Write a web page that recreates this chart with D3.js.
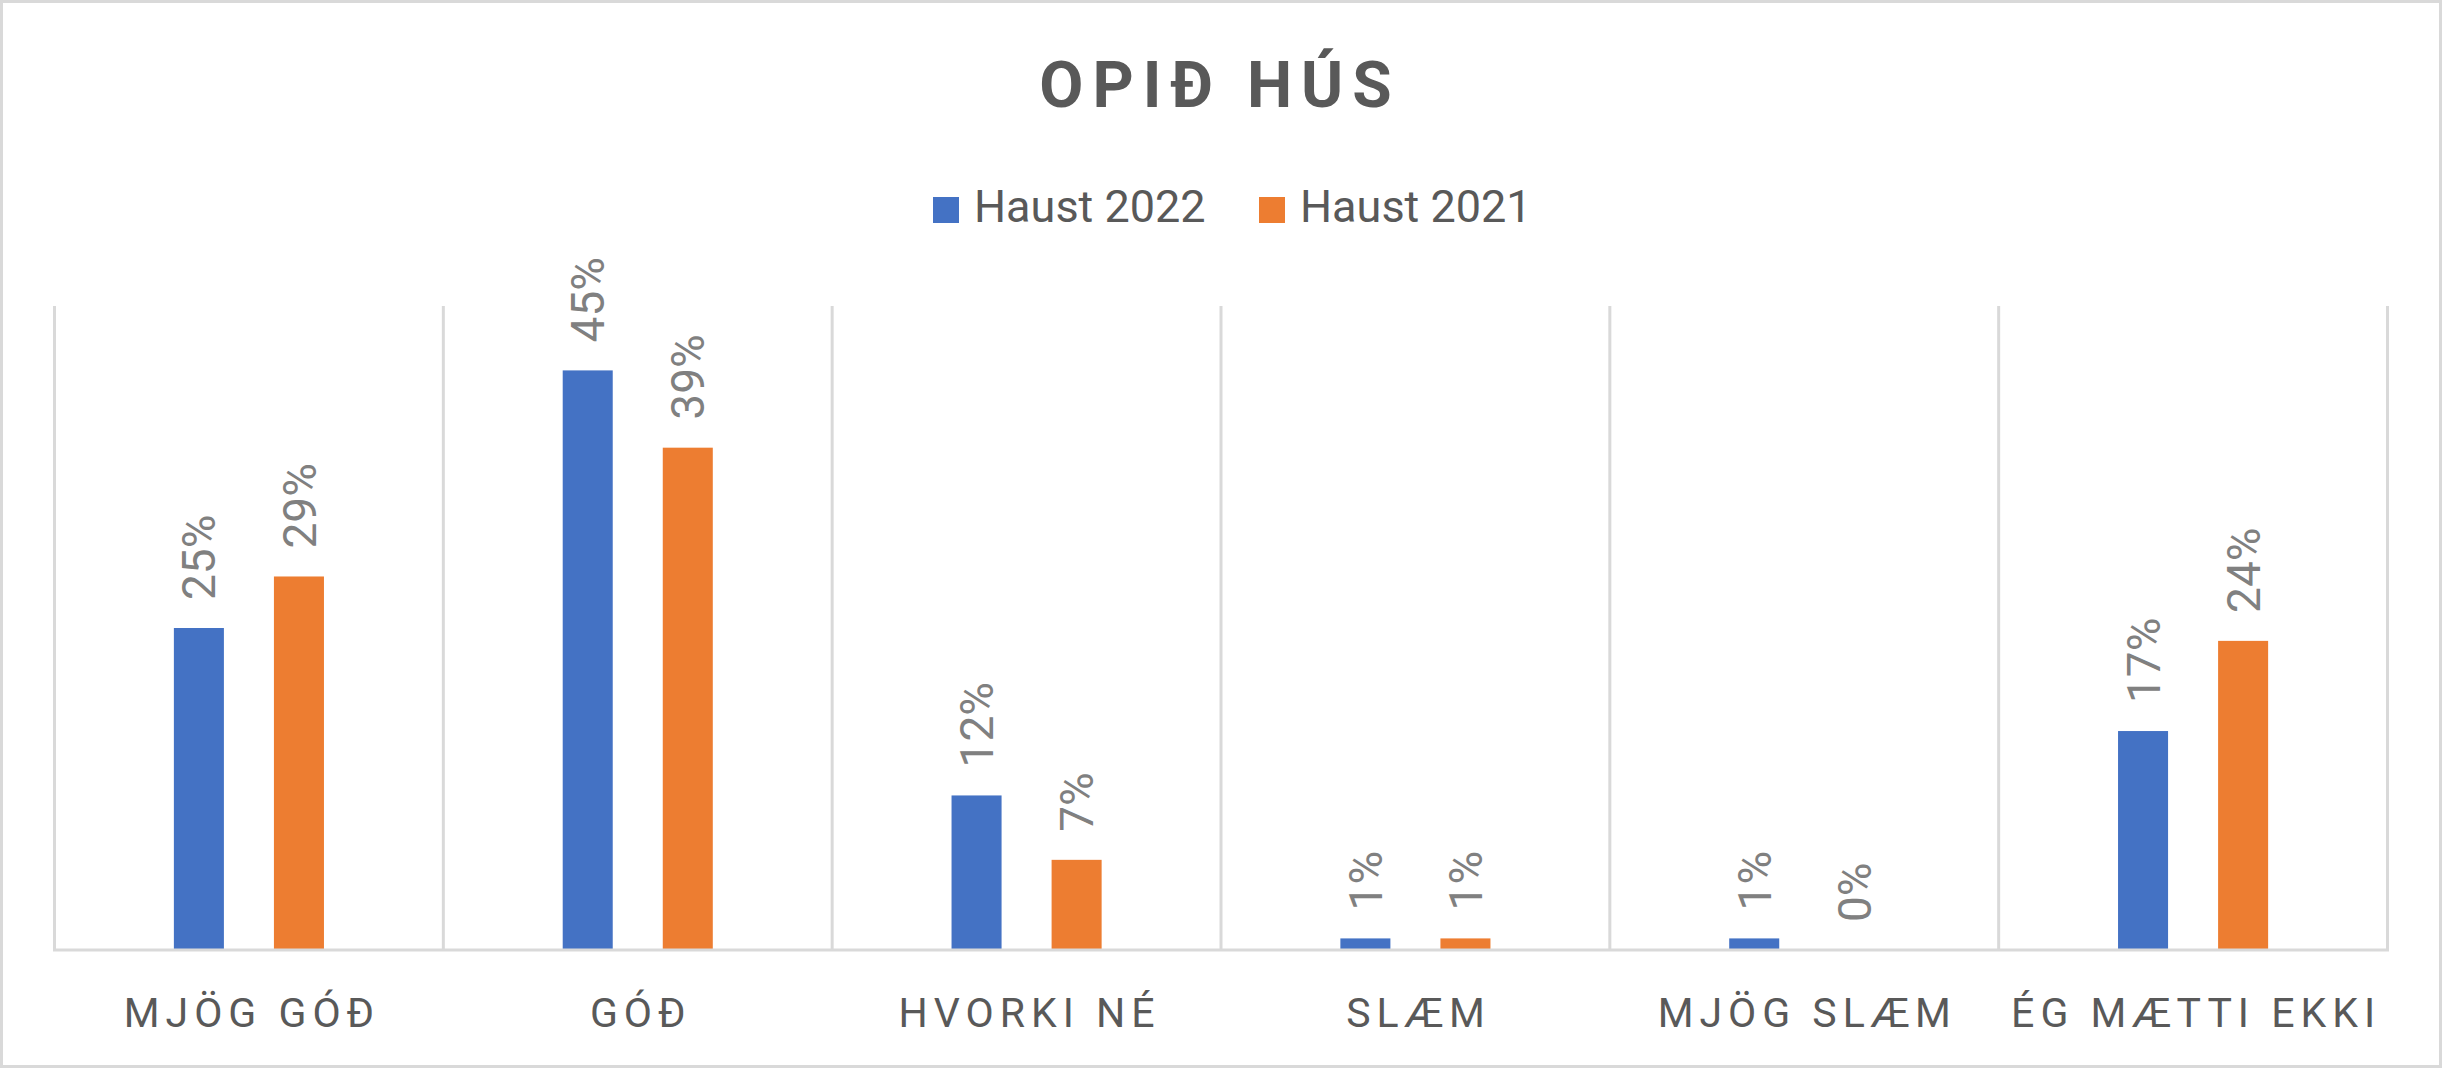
<!DOCTYPE html>
<html>
<head>
<meta charset="utf-8">
<script src="https://cdn.jsdelivr.net/npm/d3@7"></script>
<style>
  html, body { margin: 0; padding: 0; background: #fff; }
  svg { display: block; }
</style>
</head>
<body>
<svg id="chart" width="2442" height="1068"></svg>
<script>
const title = "OPIÐ HÚS";
const categories = ["MJÖG GÓÐ", "GÓÐ", "HVORKI NÉ", "SLÆM", "MJÖG SLÆM", "ÉG MÆTTI EKKI"];
const seriesNames = ["Haust 2022", "Haust 2021"];
const haust2022 = [0.25, 0.45, 0.12, 0.009, 0.009, 0.17];
const haust2021 = [0.29, 0.39, 0.07, 0.009, 0.0, 0.24];
const seriesColors = ["#4472C4", "#ED7D31"];
const yDomain = [0, 0.5];

const W = 2442, H = 1068;
const font = "Roboto, 'Noto Sans', sans-serif";
const svg = d3.select("#chart");

// outer frame
svg.append("rect").attr("x", 1.5).attr("y", 1.5).attr("width", W - 3).attr("height", H - 3)
  .attr("fill", "#fff").attr("stroke", "#d9d9d9").attr("stroke-width", 3);

const plot = { left: 54.5, right: 2387.5, top: 306, bottom: 950 };

const x0 = d3.scaleBand().domain(categories).range([plot.left, plot.right]).padding(0);
const bw = x0.bandwidth();
const x1 = d3.scaleBand().domain(seriesNames)
  .range([bw * 0.5 - bw * 0.193, bw * 0.5 + bw * 0.193]).paddingInner(0.5).paddingOuter(0);
const y = d3.scaleLinear().domain(yDomain).range([plot.bottom, plot.top]);

// vertical gridlines at category boundaries
const bounds = categories.map(c => x0(c)).concat([plot.right]);
svg.append("g").selectAll("line").data(bounds).join("line")
  .attr("x1", d => d).attr("x2", d => d)
  .attr("y1", plot.top).attr("y2", plot.bottom)
  .attr("stroke", "#d9d9d9").attr("stroke-width", 3);

// bars
const data = categories.map((c, i) => ({ cat: c, values: [
  { s: seriesNames[0], v: haust2022[i], color: seriesColors[0] },
  { s: seriesNames[1], v: haust2021[i], color: seriesColors[1] }
]}));

const groups = svg.append("g").selectAll("g").data(data).join("g")
  .attr("transform", d => `translate(${x0(d.cat)},0)`);

groups.selectAll("rect").data(d => d.values).join("rect")
  .attr("x", d => x1(d.s)).attr("width", x1.bandwidth())
  .attr("y", d => y(d.v)).attr("height", d => y(0) - y(d.v))
  .attr("fill", d => d.color);

const fmt = d3.format(".0%");
groups.selectAll("text").data(d => d.values).join("text")
  .attr("transform", d => `translate(${x1(d.s) + x1.bandwidth() / 2},${y(d.v) - 28}) rotate(-90)`)
  .attr("dy", "0.36em")
  .attr("text-anchor", "start")
  .attr("font-family", font).attr("font-size", 46)
  .attr("fill", "#808080")
  .text(d => fmt(Math.round(d.v * 100) / 100));

// baseline
svg.append("line").attr("x1", plot.left - 1.5).attr("x2", plot.right + 1.5)
  .attr("y1", plot.bottom).attr("y2", plot.bottom)
  .attr("stroke", "#d9d9d9").attr("stroke-width", 3);

// category axis
const xAxis = d3.axisBottom(x0).tickSize(0).tickPadding(0);
const ax = svg.append("g").attr("transform", `translate(0,${plot.bottom})`).call(xAxis);
ax.select(".domain").remove();
ax.selectAll("text")
  .attr("y", 77).attr("dy", 0).attr("dx", 3)
  .attr("font-family", font).attr("font-size", 41)
  .attr("letter-spacing", 6)
  .attr("fill", "#595959");

// title
svg.append("text").attr("x", W / 2 - 1).attr("y", 107)
  .attr("text-anchor", "middle")
  .attr("font-family", font).attr("font-size", 64).attr("font-weight", "bold")
  .attr("letter-spacing", 9)
  .attr("fill", "#595959")
  .text(title);

// legend
const legendX = [933, 1259];
const lg = svg.append("g").selectAll("g").data(seriesNames).join("g")
  .attr("transform", (d, i) => `translate(${legendX[i]},0)`);
lg.append("rect").attr("x", 0).attr("y", 197).attr("width", 26).attr("height", 26)
  .attr("fill", (d, i) => seriesColors[i]);
lg.append("text").attr("x", 41).attr("y", 222)
  .attr("font-family", font).attr("font-size", 45)
  .attr("fill", "#595959")
  .text(d => d);
</script>
</body>
</html>
